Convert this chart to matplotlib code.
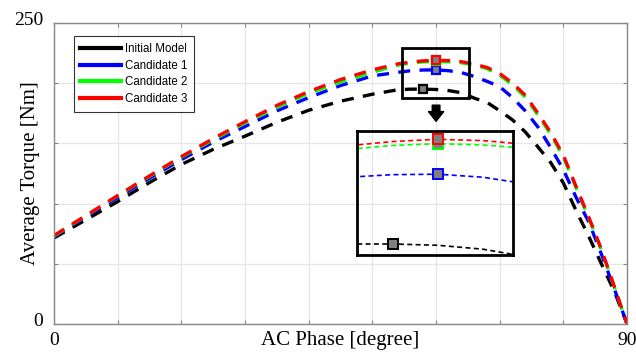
import numpy as np
import matplotlib.pyplot as plt
import matplotlib.transforms as mtransforms

# phase angle [deg] and average torque [Nm]
phase = [0, 5, 10, 15, 20, 25, 30, 35, 40, 45, 50, 54, 56, 58, 60, 62, 64, 66,
         68, 70, 72, 74, 76, 78, 80, 82, 84, 86, 88, 90]
torque_init = [71.5, 86.5, 101.7, 117.5, 132.5, 145, 156, 167.5, 177.5, 185, 190.8,
               194.5, 195, 195, 194.7, 193.8, 192, 187.5,
               184, 177, 169.5, 159.5, 147, 134, 117, 94, 72.5, 49.5, 27, 0]
torque_c1 = [72.5, 89, 105, 121, 136.5, 151, 164, 177, 188, 198, 206,
             209, 210.3, 210.9, 211, 210.3, 208.7, 205.5,
             201.5, 197, 188, 177, 163.5, 146.5, 128, 105, 84.5, 57.5, 29, 0]
torque_c2 = [73, 89.8, 106.5, 122.5, 138.5, 153, 167, 180, 191.5, 201, 209,
             215, 216.7, 217.6, 218, 217.7, 216.9, 215,
             212, 206.5, 198.5, 188.5, 173.5, 157.5, 138.5, 113, 87.5, 61, 30.5, 0]
torque_c3 = [73.5, 90, 106.7, 123, 139, 154, 168, 181.5, 193, 203, 211,
             216, 217.5, 218.5, 219, 218.7, 217.8, 215.8,
             213, 208, 200, 190, 175, 159, 140, 114, 88.5, 61.5, 31, 0]

# peak points (marked with squares)
peak_phase = [58, 60, 60, 60]
peak_torque = [195, 211, 218, 219]

names = ['Initial Model', 'Candidate 1', 'Candidate 2', 'Candidate 3']
colors = ['#000000', '#0000ff', '#00ff00', '#ff0000']
series = [torque_init, torque_c1, torque_c2, torque_c3]

serif = ['Liberation Serif', 'DejaVu Serif']
sans = ['Liberation Sans', 'DejaVu Sans']

fig = plt.figure(figsize=(6.36, 3.58), dpi=100)
ax = fig.add_axes([0.085, 0.095, 0.901, 0.841])

dash = (0, (3.6, 2.8))
for ys, c in zip(series, colors):
    ax.plot(phase, ys, color=c, lw=2.4, linestyle=dash)
for px, py, c in zip(peak_phase, peak_torque, colors):
    ax.plot(px, py, 's', ms=6, mfc='#808080', mec=c, mew=1.6, zorder=5)

ax.set_xlim(0, 90)
ax.set_ylim(0, 250)
ax.set_xticks(np.arange(0, 91, 10))
ax.set_xticklabels(['0'] + [''] * 8 + ['90'])
ax.set_yticks(np.arange(0, 251, 50))
ax.set_yticklabels(['0'] + [''] * 4 + ['250'])
ax.grid(True, color='#e6e6e6', lw=0.9)
ax.tick_params(direction='in', length=3, color='#888888', top=True, right=True,
               labelsize=14, pad=6)
ax.tick_params(axis='y', pad=8)
for lab in ax.get_xticklabels() + ax.get_yticklabels():
    lab.set_family(serif)
for sp in ax.spines.values():
    sp.set_color('#888888')
    sp.set_linewidth(1.0)

off = mtransforms.ScaledTranslation(0, 4 / 100, fig.dpi_scale_trans)
for lab in ax.get_yticklabels():
    lab.set_transform(lab.get_transform() + off)

ax.set_xlabel('AC Phase [degree]', family=serif, fontsize=15, labelpad=-13)
ax.set_ylabel('Average Torque [Nm]', family=serif, fontsize=15, labelpad=-19)

# legend with solid lines
handles = [plt.Line2D([], [], color=c, lw=3) for c in colors]
leg = ax.legend(handles, names, loc='upper left', bbox_to_anchor=(0.035, 0.955),
                prop={'family': sans, 'size': 8.3}, frameon=True, fancybox=False,
                edgecolor='black', handlelength=3.5, handletextpad=0.4,
                labelspacing=0.42, borderpad=0.55, borderaxespad=0)
leg.get_frame().set_linewidth(0.8)

# zoom box on the main plot
ax.add_patch(plt.Rectangle((54.7, 188), 10.4, 41, fill=False, ec='black', lw=2, zorder=6))
ax.annotate('', xy=(60, 166), xytext=(60, 184),
            arrowprops=dict(arrowstyle='simple,head_width=1.1,head_length=0.7,tail_width=0.55',
                            color='black', mutation_scale=10))

# inset
axin = fig.add_axes([0.561, 0.288, 0.245, 0.346])
axin.patch.set_alpha(0)
for ys, c in zip(series, colors):
    axin.plot(phase, ys, color=c, lw=1.2, linestyle=(0, (3, 2)))
for px, py, c in zip(peak_phase, peak_torque, colors):
    axin.plot(px, py, 's', ms=7, mfc='#808080', mec=c, mew=1.4, zorder=5)
axin.set_xlim(56.4, 63.3)
axin.set_ylim(192.5, 220.9)
axin.set_xticks([])
axin.set_yticks([])
for sp in axin.spines.values():
    sp.set_color('black')
    sp.set_linewidth(2)

fig.savefig('out.png', dpi=100)
